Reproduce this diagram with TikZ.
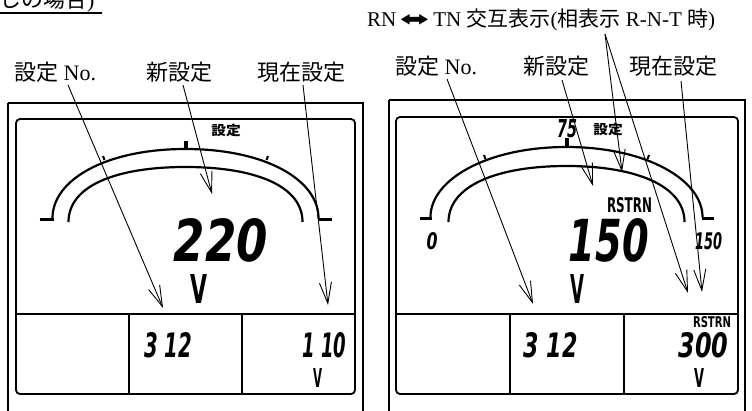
\documentclass[tikz,border=0pt]{standalone}
\usepackage{fontspec}
\usepackage{graphicx}
\usetikzlibrary{arrows.meta}
\setmainfont{Liberation Serif}
\newfontfamily\jp{Noto Sans CJK JP}
\newfontfamily\lcdf{DejaVu Sans}
\newfontfamily\symf{DejaVu Sans}
\newcommand\lcdnum[3]{\resizebox{#1}{#2}{\lcdf\bfseries\itshape #3}}
\newcommand\lcdup[3]{\resizebox{#1}{#2}{\lcdf\bfseries #3}}
\tikzset{
  framebox/.style={line width=1.6pt},
  lcdbox/.style={line width=1.8pt, rounded corners=4pt},
  arcline/.style={line width=2.2pt},
  endtick/.style={line width=3pt},
  ptr/.style={-{Straight Barb[length=21pt,width=12pt]}, line width=0.9pt},
  lbl/.style={inner sep=0pt, anchor=base west, font=\fontsize{22}{22}\selectfont},
  lcd/.style={inner sep=0pt},
}
\begin{document}
\begin{tikzpicture}[x=1pt,y=-1pt]
\useasboundingbox (0,0) rectangle (752,410);
\clip (0,0) rectangle (752,410);
\fill[white] (0,0) rectangle (752,410);

% cut-off heading
\node[lbl] (head) at (-1,7) {{\jp しの場合})};
\draw[line width=1.4pt] (0,13) -- (102,13);

% top label
\node[lbl, font=\fontsize{21}{21}\selectfont] (toplbl) at (367,26)
  {RN\,\resizebox{30pt}{12pt}{\symf ⬌}\,TN {\jp 交互表示}({\jp 相表示} R-N-T {\jp 時})};

% panel labels
\node[lbl] (lno)  at (14,80)  {{\jp 設定} No.};
\node[lbl] (lnew) at (146,80) {\jp 新設定};
\node[lbl] (lcur) at (257,80) {\jp 現在設定};
\node[lbl] (rno)  at (395,74) {{\jp 設定} No.};
\node[lbl] (rnew) at (523,74) {\jp 新設定};
\node[lbl] (rcur) at (629,74) {\jp 現在設定};

% ===== left panel =====
\draw[framebox] (8,103) -- (8,420) (8,103) -- (363,103) -- (363,420);
\draw[lcdbox] (16,119) rectangle (355,394);
\draw[line width=1.8pt] (16,314) -- (355,314) (129,314) -- (129,394) (242,314) -- (242,394);
\begin{scope}[shift={(185.5,0)}]
  \draw[arcline] (-133,218) .. controls (-133,180) and (-80,149) .. (0,149)
                 .. controls (80,149) and (133,180) .. (133,218);
  \draw[arcline] (-117,222) .. controls (-117,186) and (-70,167) .. (0,167)
                 .. controls (70,167) and (117,186) .. (117,222);
  \draw[endtick] (-146,219) -- (-132,219);
  \draw[endtick] (132,219) -- (146,219);
  \fill (-2,141) rectangle (2,149);
  \draw[line width=2pt] (-81,160) -- (-82.5,156);
  \draw[line width=2pt] (81,160) -- (82.5,156);
\end{scope}
\node[lcd] (lset) at (226,131) {\scalebox{1.05}[0.95]{\fontsize{14}{14}\selectfont\jp\bfseries 設定}};
\node[lcd] (l220) at (221,240.5) {\lcdnum{94pt}{43pt}{220}};
\node[lcd] (lv1)  at (198.5,288.5) {\lcdup{17pt}{29pt}{V}};
\node[lcd] (l312) at (168,345.5) {\lcdnum{48pt}{25pt}{3 12}};
\node[lcd] (l110) at (324.5,345.5) {\lcdnum{44pt}{25pt}{1 10}};
\node[lcd] (lv2)  at (317.5,377.5) {\lcdup{9pt}{19pt}{V}};

% ===== right panel =====
\draw[framebox] (389,100) -- (389,420) (389,100) -- (745,100) -- (745,420);
\draw[lcdbox] (396,117) rectangle (738,394);
\draw[line width=1.8pt] (396,314) -- (738,314) (510,314) -- (510,394) (624,314) -- (624,394);
\begin{scope}[shift={(566.5,0)}]
  \draw[arcline] (-136,217) .. controls (-136,180) and (-80,147) .. (0,147)
                 .. controls (80,147) and (136,180) .. (136,217);
  \draw[arcline] (-118,222) .. controls (-118,186) and (-70,166) .. (0,166)
                 .. controls (70,166) and (118,186) .. (118,222);
  \draw[endtick] (-147,218) -- (-135,218);
  \draw[endtick] (135,218) -- (147,218);
  \fill (-2,138) rectangle (2,147);
  \draw[line width=2pt] (-81,159) -- (-82.5,155);
  \draw[line width=2pt] (81,159) -- (82.5,155);
\end{scope}
\node[lcd] (r75)   at (567,129) {\lcdnum{20pt}{18pt}{75}};
\node[lcd] (rset)  at (608,129.5) {\scalebox{1.05}[0.95]{\fontsize{14}{14}\selectfont\jp\bfseries 設定}};
\node[lcd] (r0)    at (432,241.5) {\lcdnum{11pt}{17pt}{0}};
\node[lcd] (r150s) at (708.5,241.5) {\lcdnum{27pt}{17pt}{150}};
\node[lcd] (rrs1)  at (629.5,205.5) {\lcdup{45pt}{15pt}{RSTRN}};
\node[lcd] (r150)  at (609,240.5) {\lcdnum{80pt}{43pt}{150}};
\node[lcd] (rv1)   at (577.5,288.5) {\lcdup{14pt}{29pt}{V}};
\node[lcd] (r312)  at (550.5,345.5) {\lcdnum{54pt}{25pt}{3 12}};
\node[lcd] (rrs2)  at (712,322.5) {\lcdup{38pt}{11pt}{RSTRN}};
\node[lcd] (r300)  at (703.5,345.5) {\lcdnum{50pt}{25pt}{300}};
\node[lcd] (rv2)   at (699,377.5) {\lcdup{10pt}{19pt}{V}};

% ===== pointers =====
\coordinate (a1s) at (68,85);   \coordinate (a1e) at (163,308);
\coordinate (a2s) at (183,85);  \coordinate (a2e) at (212,194);
\coordinate (a3s) at (303,85);  \coordinate (a3e) at (328,305);
\coordinate (b1s) at (447,79);  \coordinate (b1e) at (533,304);
\coordinate (b2s) at (562,80);  \coordinate (b2e) at (593,186);
\coordinate (b3s) at (681,81);  \coordinate (b3e) at (702,292);
\coordinate (t0)  at (605,34);
\coordinate (t1e) at (622,172); \coordinate (t2e) at (688,293);
\draw[ptr] (a1s) -- (a1e);
\draw[ptr] (a2s) -- (a2e);
\draw[ptr] (a3s) -- (a3e);
\draw[ptr] (b1s) -- (b1e);
\draw[ptr] (b2s) -- (b2e);
\draw[ptr] (b3s) -- (b3e);
\draw[ptr] (t0) -- (t1e);
\draw[ptr] (t0) -- (t2e);
\end{tikzpicture}
\end{document}
